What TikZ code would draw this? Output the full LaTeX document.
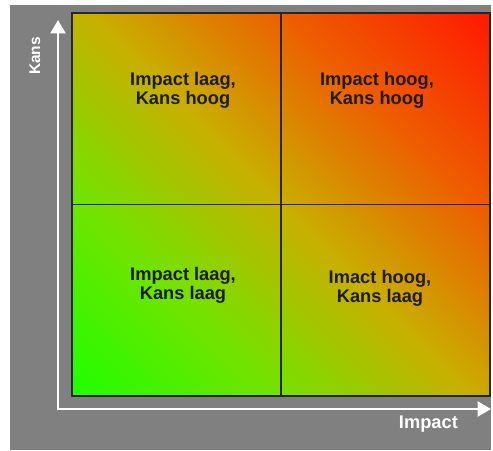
\documentclass[tikz,border=0pt]{standalone}
\usepackage{fontspec}
\setmainfont{Liberation Sans}
\usetikzlibrary{arrows.meta}

\definecolor{panelgray}{RGB}{128,128,128}
\definecolor{riskgreen}{RGB}{30,255,0}
\definecolor{risklime}{RGB}{112,228,0}
\definecolor{riskmid}{RGB}{200,175,0}
\definecolor{riskorange}{RGB}{238,92,0}
\definecolor{riskred}{RGB}{255,25,0}
\definecolor{celltext}{RGB}{28,28,28}

% diagonal risk gradient, green (low) to red (high)
\pgfdeclarehorizontalshading{riskfade}{100bp}{
	color(0bp)=(riskgreen); color(14.6bp)=(riskgreen);
	color(32.3bp)=(risklime); color(50bp)=(riskmid);
	color(67.6bp)=(riskorange); color(85.4bp)=(riskred);
	color(100bp)=(riskred)}

\begin{document}
\begin{tikzpicture}[
		axis/.style={draw=white, line width=2.1pt, line join=miter,
			{Triangle[width=10.5pt,length=9.5pt]}-{Triangle[width=10.5pt,length=9.5pt]}},
		divider/.style={draw=black!85, line width=1.3pt},
		cell/.style={font=\bfseries\fontsize{13}{13.6}\selectfont, text=celltext, align=center},
		axislabel/.style={font=\bfseries, text=white},
		every node/.style={inner sep=1pt}
		]
		
		\useasboundingbox (0,0) rectangle (12.325,11.25);
		
		% -------------------------------------------------
		% Background panel
		% -------------------------------------------------
		\fill[panelgray] (0.25,0) rectangle (12.275,11.125);
		
		% -------------------------------------------------
		% Matrix
		% -------------------------------------------------
		\shade[shading=riskfade, shading angle=45] (1.8,1.35) rectangle (12.25,10.925);
		\draw[divider] (7.025,1.35) -- (7.025,10.925);
		\draw[divider] (1.8,6.1375) -- (12.25,6.1375);
		\draw[divider] (1.8,1.35) rectangle (12.25,10.925);
		
		\node[cell] (laaghoog) at (4.575,9.0) {Impact laag,\\Kans hoog};
		\node[cell] (hooghoog) at (9.425,9.0) {Impact hoog,\\Kans hoog};
		\node[cell] (laaglaag) at (4.575,4.125) {Impact laag,\\Kans laag};
		\node[cell] (hooglaag) at (9.5,4.05) {Imact hoog,\\Kans laag};
		
		% -------------------------------------------------
		% Axes
		% -------------------------------------------------
		\coordinate (origin) at (1.45,1.025);
		\coordinate (kanstop) at (1.45,10.75);
		\coordinate (impactend) at (12.275,1.025);
		\draw[axis] (kanstop) -- (origin) -- (impactend);
		
		\node[axislabel, rotate=90, font=\bfseries\fontsize{11}{13}\selectfont] (kans) at (0.875,9.85) {Kans};
		\node[axislabel, font=\bfseries\fontsize{13}{15}\selectfont] (impact) at (10.71,0.65) {Impact};
		
	\end{tikzpicture}
\end{document}
